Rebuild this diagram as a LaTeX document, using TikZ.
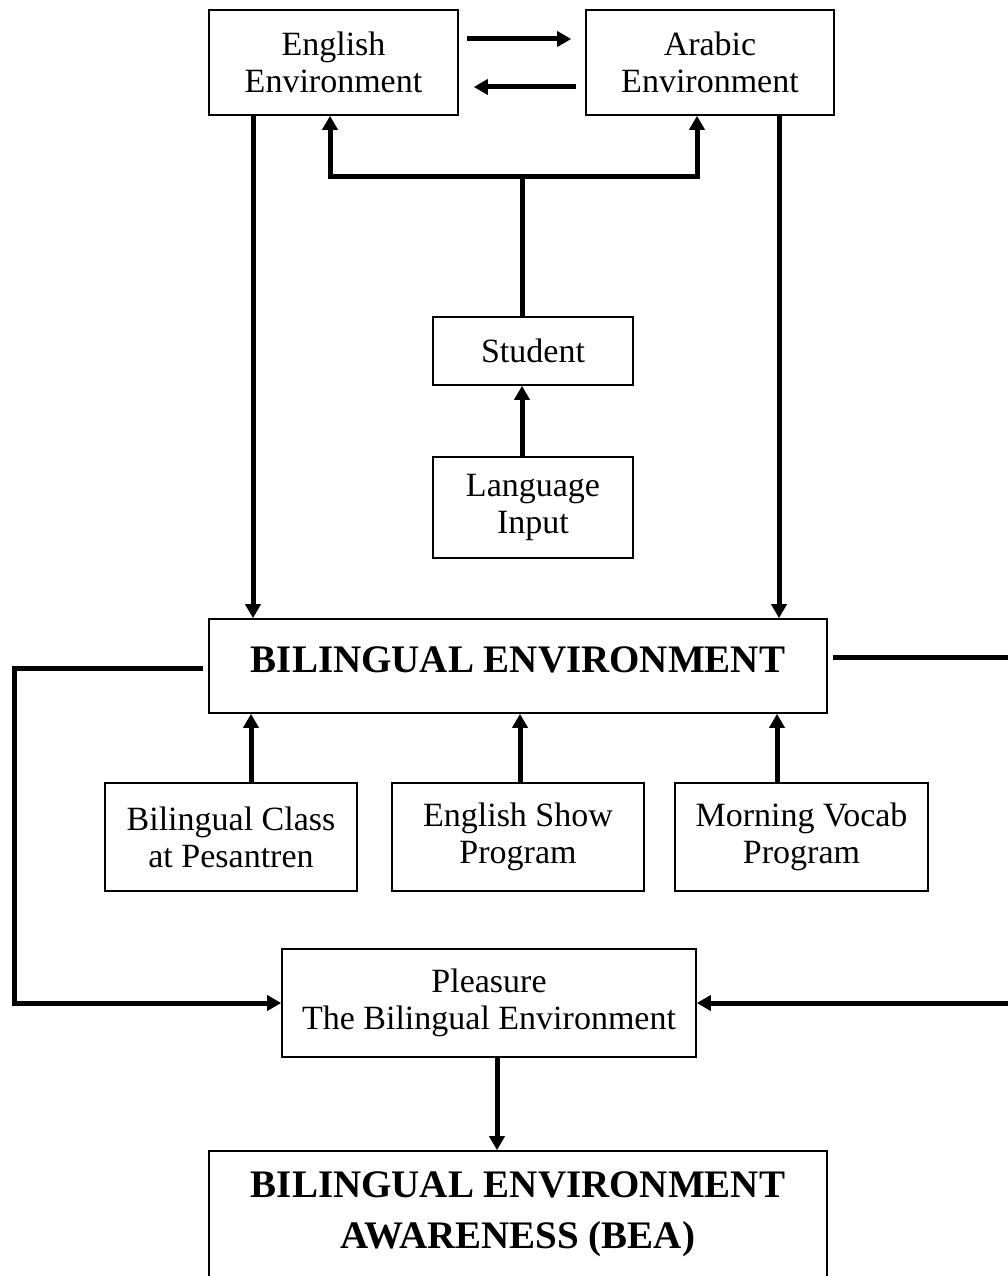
\documentclass[tikz,border=0pt]{standalone}
\usepackage{fontspec}
\setmainfont{Liberation Serif}
\usetikzlibrary{positioning}
\usetikzlibrary{arrows.meta}
\tikzset{
    box/.style = {rectangle, draw, line width=1.6pt, inner sep=0pt, align=center,
        font=\fontsize{34}{37}\selectfont},
    bigbox/.style = {box, font=\fontsize{39}{51}\selectfont\bfseries},
    link/.style = {line width=5pt},
    conn/.style = {link, -{Triangle[length=14pt,width=15pt]}}}

\begin{document}
\begin{tikzpicture}[x=1pt, y=-1pt, node distance=1cm and 2cm, on grid]
    \useasboundingbox (0,0) rectangle (1007,1276);
    % top row
    \node[box, minimum width=249pt, minimum height=105pt] (eng) at (333.5,62.5) {English\\Environment};
    \node[box, minimum width=248pt, minimum height=105pt, right=376.5pt of eng] (arab) {Arabic\\Environment};
    \node[box, minimum width=200pt, minimum height=68pt] (stud) at (533,351) {Student};
    \node[box, minimum width=200pt, minimum height=101pt, below=156.5pt of stud] (lang) {Language\\Input};
    % middle
    \node[bigbox, minimum width=618pt, text height=53pt, text depth=41pt] (bienv) at (518,666) {BILINGUAL ENVIRONMENT};
    \node[box, minimum width=252pt, minimum height=108pt] (show) at (518,837) {English Show\\Program};
    \node[box, minimum width=252pt, minimum height=108pt, left=287pt of show] (cls) {Bilingual Class\\at Pesantren};
    \node[box, minimum width=253pt, minimum height=108pt, right=283.5pt of show] (vocab) {Morning Vocab\\Program};
    % bottom
    \node[box, minimum width=414pt, minimum height=108pt] (pleas) at (489,1003) {Pleasure\\The Bilingual Environment};
    \node[bigbox, minimum width=618pt, minimum height=126pt] (bea) at (518,1214) {BILINGUAL ENVIRONMENT\\AWARENESS (BEA)};

    \draw[conn] ([xshift=8pt,yshift=23.5pt]eng.east) -- ([xshift=-14pt,yshift=23.5pt]arab.west);
    \draw[conn] ([xshift=-9pt,yshift=-24.5pt]arab.west) -- ([xshift=15pt,yshift=-24.5pt]eng.east);
    \coordinate (hub) at (522,177);
    \draw[link] (stud.north -| hub) -- (hub);
    \draw[conn] (hub) -| (eng.south -| 330,0);
    \draw[conn] (hub) -| (arab.south -| 697,0);
    \draw[conn] (lang.north -| 522,0) -- (stud.south -| 522,0);
    \draw[conn] (eng.south -| 253,0) -- (bienv.north -| 253,0);
    \draw[conn] (arab.south -| 779,0) -- (bienv.north -| 779,0);
    \foreach \n/\x in {cls/251, show/520, vocab/777}
        \draw[conn] (\n.north -| \x,0) -- (bienv.south -| \x,0);
    \draw[conn] ([xshift=-5pt,yshift=-2pt]bienv.west) -- (14,668) |- (pleas.west);
    \draw[conn] ([xshift=5pt,yshift=9pt]bienv.east) -- (1013,657) |- (pleas.east);
    \draw[conn] (pleas.south -| 497,0) -- (bea.north -| 497,0);
\end{tikzpicture}
\end{document}
